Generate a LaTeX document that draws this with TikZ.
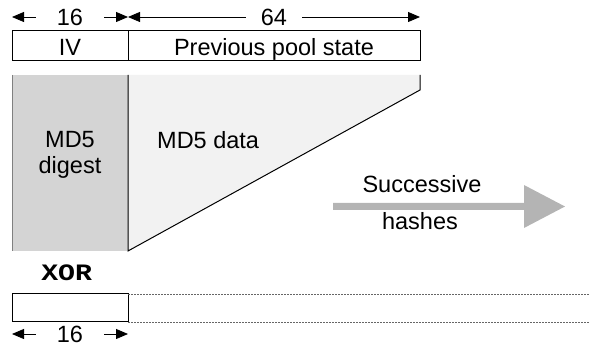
\documentclass[tikz,border=0pt]{standalone}
\usepackage{fontspec}
\setmainfont{Liberation Sans}
\newfontfamily\xorfont{Liberation Mono}
\usetikzlibrary{arrows.meta}
\tikzset{
  dimline/.style={{Triangle[length=12pt,width=10pt]}-{Triangle[length=12pt,width=10pt]}, line width=0.8pt},
  dimlabel/.style={fill=white, inner ysep=1pt},
  txt/.style={inner sep=0pt, anchor=base},
}
\definecolor{digestgray}{RGB}{212,212,212}
\definecolor{datagray}{RGB}{242,242,242}
\definecolor{hashgray}{RGB}{180,180,180}

\begin{document}
\begin{tikzpicture}[x=1pt,y=-1pt,font=\fontsize{23.5}{26}\selectfont]
\useasboundingbox (0,0) rectangle (590,347);

% to draw the sizes above the pool
\draw [dimline] (12,17) -- node[dimlabel, inner xsep=21pt] (top16) {16} (128,17);
\draw [dimline] (128,17) -- node[dimlabel, inner xsep=15pt] (top64) {64} (420,17);

% to draw the pool
\draw [line width=1pt] (12,31) rectangle (420,61);
\draw [line width=1pt] (128,31) -- (128,61);
\node [txt] (iv) at (70,56) {IV};
\node [txt] (prev) at (274,56) {Previous pool state};

% to draw the hash input
\fill [digestgray] (12,75) rectangle (128,251);
\draw [gray, line width=1pt] (12,75) -- (12,251);
\fill [datagray] (128,75) -- (420,75) -- (420,90) -- (128,251) -- cycle;
\draw [line width=1pt] (420,75) -- (420,90) -- (128,251) -- (128,75);
\node [txt] (md5) at (70,148) {MD5};
\node [txt] (digest) at (70,174) {digest};
\node [txt, anchor=base west] (data) at (157,149) {MD5 data};

% to draw the big arrow
\fill [hashgray] (333,203) -- (524,203) -- (524,185) -- (565,206.5) -- (524,228) -- (524,210) -- (333,210) -- cycle;
\node [txt] (succ) at (422,193) {Successive};
\node [txt] (hash) at (420,230) {hashes};

% to draw the output
\node [txt] (xor) at (66.7,281) {\scalebox{1.2}[1]{\fontsize{23.5}{26}\selectfont\xorfont\bfseries XOR}};
\draw [line width=1pt] (12,294) rectangle (128,322);
\draw [dashed, dash pattern=on 2pt off 1pt, line width=0.6pt, gray!80!black] (128,294) -- (590,294) (128,322) -- (590,322);
\draw [dimline] (12,334) -- node[dimlabel, inner xsep=21pt] (bot16) {16} (128,334);
\end{tikzpicture}
\end{document}
